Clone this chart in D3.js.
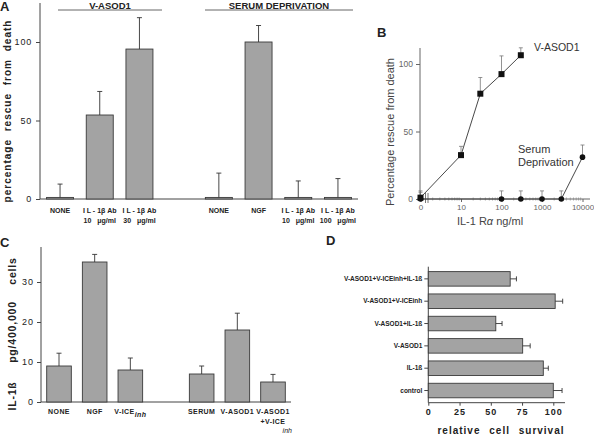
<!DOCTYPE html>
<html><head><meta charset="utf-8">
<script src="https://cdn.jsdelivr.net/npm/d3@7"></script>
<style>
html,body{margin:0;padding:0;background:#fff;}
svg{display:block;font-family:"Liberation Sans",Arial,Helvetica,sans-serif;}
</style></head>
<body>
<script>
// ---------- Panel A data ----------
const aLine1 = ["NONE","I L - 1β Ab","I L - 1β Ab","","NONE","NGF","I L - 1β Ab","I L - 1β Ab"];
const aLine2 = ["","10   μg/ml","30   μg/ml","","","","10   μg/ml","100   μg/ml"];
const aValues = [1, 53.5, 95.5, null, 1, 100, 1, 1];
const aErrTop = [9.5, 68.5, 115.5, null, 16.5, 110.5, 11.5, 13];
const aTicks = [0, 50, 100];
const aGroups = ["V-ASOD1", "SERUM DEPRIVATION"];

// ---------- Panel B data ----------
const bAsodDose = [0, 10, 30, 100, 300];
const bAsodVal = [1, 32.5, 78, 92.5, 106.5];
const bAsodErr = [6, 39, 90, 106, 112];
const bSerumDose = [0, 100, 300, 1000, 3000, 10000];
const bSerumVal = [0, 0, 0, 0, 0, 31];
const bSerumErr = [5, 6, 6, 6, 6, 40];
const bXTicks = [0, 10, 100, 1000, 10000];
const bYTicks = [0, 50, 100];

// ---------- Panel C data ----------
const cLine1 = ["NONE","NGF","V-ICE","","SERUM","V-ASOD1","V-ASOD1"];
const cLine2 = ["","","","","","","+V-ICE"];
const cValues = [9, 35, 8, null, 7, 18, 5];
const cErrTop = [12.2, 36.9, 11, null, 9, 22.2, 6.9];
const cTicks = [0, 10, 20, 30];

// ---------- Panel D data ----------
const dCategories = ["V-ASOD1+V-ICEinh+IL-1ß","V-ASOD1+V-ICEinh","V-ASOD1+IL-1ß","V-ASOD1","IL-1ß","control"];
const dValues = [65.5, 101.5, 54, 75.5, 92, 100];
const dErr = [70.5, 107.5, 59, 81.5, 96, 107];
const dTicks = [0, 25, 50, 75, 100];

const W = 594, H = 435;
const svg = d3.select("body").append("svg").attr("width", W).attr("height", H);
const barFill = "#a3a3a3", barStroke = "#3a3a3a", ink = "#222";

// ================= Panel A =================
{
  const g = svg.append("g");
  const x = d3.scaleBand().domain(d3.range(aValues.length)).range([40, 358]).paddingInner(0.32).paddingOuter(0.165);
  const y = d3.scaleLinear().domain([0, 100]).range([199, 42]);
  g.append("text").attr("x", 0).attr("y", 11).attr("font-size", 13).attr("font-weight", "bold").attr("fill", ink).text("A");
  g.append("line").attr("x1", 40).attr("x2", 40).attr("y1", 3).attr("y2", 199).attr("stroke", "#444");
  g.append("line").attr("x1", 40).attr("x2", 358).attr("y1", y(0)).attr("y2", y(0)).attr("stroke", "#444");
  const ax = g.append("g").attr("transform", "translate(40,0)")
    .call(d3.axisLeft(y).tickValues(aTicks).tickSize(4).tickPadding(4));
  ax.select(".domain").remove();
  ax.selectAll("line").attr("stroke", "#444");
  ax.selectAll("text").attr("font-size", 9).attr("fill", ink).attr("letter-spacing", "0.8px").attr("font-family", "Liberation Sans, Arial");
  const idx = d3.range(aValues.length).filter(i => aValues[i] !== null);
  g.selectAll(".ab").data(idx).join("rect")
    .attr("x", i => x(i)).attr("width", x.bandwidth())
    .attr("y", i => y(aValues[i])).attr("height", i => y(0) - y(aValues[i]))
    .attr("fill", barFill).attr("stroke", barStroke).attr("stroke-width", 0.9);
  g.selectAll(".ae").data(idx).join("path")
    .attr("d", i => { const cx = x(i) + x.bandwidth()/2; return `M${cx},${y(aValues[i])}V${y(aErrTop[i])}M${cx-2.5},${y(aErrTop[i])}H${cx+2.5}`; })
    .attr("stroke", "#333").attr("stroke-width", 0.9).attr("fill", "none");
  g.selectAll(".al1").data(idx).join("text")
    .attr("x", i => x(i) + x.bandwidth()/2).attr("y", 213).attr("text-anchor", "middle")
    .attr("font-size", 7).attr("font-weight", "bold").attr("fill", ink).text(i => aLine1[i]);
  g.selectAll(".al2").data(idx).join("text")
    .attr("x", i => x(i) + x.bandwidth()/2).attr("y", 222.5).attr("text-anchor", "middle")
    .style("white-space","pre")
    .attr("font-size", 7).attr("font-weight", "bold").attr("fill", ink).text(i => aLine2[i]);
  const groupSpans = [[58, 162], [205, 353]];
  aGroups.forEach((t, k) => {
    g.append("line").attr("x1", groupSpans[k][0]).attr("x2", groupSpans[k][1]).attr("y1", 10).attr("y2", 10).attr("stroke", "#555").attr("stroke-width", 0.9);
    g.append("text").attr("x", (groupSpans[k][0] + groupSpans[k][1]) / 2).attr("y", 8.5).attr("text-anchor", "middle")
      .attr("font-size", 9.5).attr("font-weight", "bold").attr("fill", ink).text(t);
  });
  g.append("text").attr("transform", "translate(11,111) rotate(-90)").attr("text-anchor", "middle")
    .attr("font-size", 10).attr("font-weight", "bold").attr("fill", ink).attr("letter-spacing", "1px").attr("word-spacing", "4px")
    .text("percentage rescue from death");
}

// ================= Panel B =================
{
  const g = svg.append("g");
  const pos = d => d === 0 ? 1 : d;
  const x = d3.scaleLog().domain([1, 10000]).range([420.5, 582.5]);
  const y = d3.scaleLinear().domain([0, 100]).range([199, 64]);
  g.append("text").attr("x", 377).attr("y", 37).attr("font-size", 13).attr("font-weight", "bold").attr("fill", ink).text("B");
  g.append("line").attr("x1", 420).attr("x2", 420).attr("y1", 48).attr("y2", 199).attr("stroke", "#666");
  g.append("line").attr("x1", 420).attr("x2", 590).attr("y1", 199).attr("y2", 199).attr("stroke", "#666");
  const ay = g.append("g").attr("transform", "translate(420,0)")
    .call(d3.axisLeft(y).tickValues(bYTicks).tickSize(4).tickPadding(3));
  ay.select(".domain").remove();
  ay.selectAll("line").attr("stroke", "#666");
  ay.selectAll("text").attr("font-size", 8.5).attr("fill", "#666").attr("font-family", "Liberation Sans, Arial");
  const minor = [];
  for (let e = 0; e < 4; e++) for (let m = 2; m <= 9; m++) minor.push(m * Math.pow(10, e));
  g.selectAll(".mn").data(minor.filter(v => v > 1.3)).join("line")
    .attr("x1", d => x(d)).attr("x2", d => x(d)).attr("y1", 197.5).attr("y2", 200.5).attr("stroke", "#888").attr("stroke-width", 0.7);
  const axx = g.append("g").attr("transform", "translate(0,199)")
    .call(d3.axisBottom(x).tickValues(bXTicks.map(pos)).tickFormat((d, i) => String(bXTicks[i])).tickSize(3).tickPadding(2));
  axx.select(".domain").remove();
  axx.selectAll("line").attr("stroke", "#666");
  axx.selectAll("text").attr("font-size", 8).attr("fill", "#666").attr("font-family", "Liberation Sans, Arial");
  g.append("path").attr("d", "M425.5,193V203M428,193V203").attr("stroke", "#555").attr("stroke-width", 0.8);
  const lineGen = (ds, vs) => d3.line()(ds.map((d, i) => [x(pos(d)), y(vs[i])]));
  g.append("path").attr("d", lineGen(bAsodDose, bAsodVal)).attr("fill", "none").attr("stroke", "#333").attr("stroke-width", 0.9);
  g.append("path").attr("d", lineGen(bSerumDose, bSerumVal)).attr("fill", "none").attr("stroke", "#333").attr("stroke-width", 0.9);
  const errs = (ds, vs, es, cls) => g.selectAll("." + cls).data(ds).join("path")
    .attr("d", (d, i) => { const cx = x(pos(d)); return `M${cx},${y(vs[i])}V${y(es[i])}M${cx-2},${y(es[i])}H${cx+2}`; })
    .attr("stroke", "#777").attr("stroke-width", 0.8).attr("fill", "none");
  errs(bAsodDose, bAsodVal, bAsodErr, "ea");
  errs(bSerumDose, bSerumVal, bSerumErr, "es");
  g.selectAll(".ma").data(bAsodDose).join("rect")
    .attr("x", d => x(pos(d)) - 3).attr("y", (d, i) => y(bAsodVal[i]) - 3).attr("width", 6).attr("height", 6).attr("fill", "#111");
  g.selectAll(".ms").data(bSerumDose).join("circle")
    .attr("cx", d => x(pos(d))).attr("cy", (d, i) => y(bSerumVal[i])).attr("r", 2.8).attr("fill", "#111");
  g.append("text").attr("x", 534).attr("y", 51).attr("font-size", 10.5).attr("fill", "#333").text("V-ASOD1");
  g.append("text").attr("x", 518).attr("y", 153).attr("font-size", 11).attr("fill", "#333").text("Serum");
  g.append("text").attr("x", 518).attr("y", 166).attr("font-size", 11).attr("fill", "#333").text("Deprivation");
  g.append("text").attr("transform", "translate(394,132) rotate(-90)").attr("text-anchor", "middle")
    .attr("font-size", 11).attr("fill", "#444").text("Percentage rescue from death");
  const xl = g.append("text").attr("x", 490).attr("y", 225).attr("text-anchor", "middle").attr("font-size", 11).attr("fill", "#444");
  xl.append("tspan").text("IL-1 R");
  xl.append("tspan").attr("font-style", "italic").text("α");
  xl.append("tspan").text(" ng/ml");
}

// ================= Panel C =================
{
  const g = svg.append("g");
  const x = d3.scaleBand().domain(d3.range(cValues.length)).range([41, 291]).paddingInner(0.31).paddingOuter(0.16);
  const y = d3.scaleLinear().domain([0, 30]).range([402, 282]);
  g.append("text").attr("x", 0).attr("y", 247).attr("font-size", 13).attr("font-weight", "bold").attr("fill", ink).text("C");
  g.append("line").attr("x1", 41).attr("x2", 41).attr("y1", 247).attr("y2", 402).attr("stroke", "#444");
  g.append("line").attr("x1", 41).attr("x2", 291).attr("y1", 402).attr("y2", 402).attr("stroke", "#444");
  const ax = g.append("g").attr("transform", "translate(41,0)")
    .call(d3.axisLeft(y).tickValues(cTicks).tickSize(4).tickPadding(3));
  ax.select(".domain").remove();
  ax.selectAll("line").attr("stroke", "#444");
  ax.selectAll("text").attr("font-size", 9).attr("fill", ink).attr("letter-spacing", "1px").attr("font-family", "Liberation Sans, Arial");
  const idx = d3.range(cValues.length).filter(i => cValues[i] !== null);
  g.selectAll(".cb").data(idx).join("rect")
    .attr("x", i => x(i)).attr("width", x.bandwidth())
    .attr("y", i => y(cValues[i])).attr("height", i => y(0) - y(cValues[i]))
    .attr("fill", barFill).attr("stroke", barStroke).attr("stroke-width", 0.9);
  g.selectAll(".ce").data(idx).join("path")
    .attr("d", i => { const cx = x(i) + x.bandwidth()/2; return `M${cx},${y(cValues[i])}V${y(cErrTop[i])}M${cx-2.5},${y(cErrTop[i])}H${cx+2.5}`; })
    .attr("stroke", "#333").attr("stroke-width", 0.9).attr("fill", "none");
  const l1 = g.selectAll(".cl1").data(idx).join("text")
    .attr("x", i => x(i) + x.bandwidth()/2).attr("y", 414).attr("text-anchor", "middle")
    .attr("font-size", 7).attr("font-weight", "bold").attr("fill", ink).attr("letter-spacing", "0.4px");
  l1.append("tspan").text(i => cLine1[i]);
  l1.filter(i => i === 2).append("tspan").attr("font-style", "italic").attr("dy", 2.5).attr("font-size", 7).text("inh");
  g.selectAll(".cl2").data(idx.filter(i => cLine2[i])).join("text")
    .attr("x", i => x(i) + x.bandwidth()/2).attr("y", 423.5).attr("text-anchor", "middle")
    .attr("font-size", 7).attr("font-weight", "bold").attr("fill", ink).attr("letter-spacing", "0.4px").text(i => cLine2[i]);
  g.selectAll(".cl3").data(idx.filter(i => cLine2[i])).join("text")
    .attr("x", i => x(i) + x.bandwidth() + 2).attr("y", 433).attr("text-anchor", "middle")
    .attr("font-size", 7).attr("font-style", "italic").attr("fill", ink).text("inh");
  const yl = [["IL-1ß", 396], ["pg/400,000", 332], ["cells", 271]];
  yl.forEach(([t, cy]) => g.append("text").attr("transform", `translate(16,${cy}) rotate(-90)`).attr("text-anchor", "middle")
    .attr("font-size", 10.5).attr("font-weight", "bold").attr("fill", ink).attr("letter-spacing", "0.8px").text(t));
}

// ================= Panel D =================
{
  const g = svg.append("g");
  const x = d3.scaleLinear().domain([0, 100]).range([428.3, 553.3]);
  const y = d3.scaleBand().domain(dCategories).range([266.7, 402.7]).paddingInner(0.35).paddingOuter(0.22);
  g.append("text").attr("x", 326).attr("y", 245).attr("font-size", 13).attr("font-weight", "bold").attr("fill", ink).text("D");
  g.append("line").attr("x1", 428.3).attr("x2", 428.3).attr("y1", 266.7).attr("y2", 402.7).attr("stroke", "#444");
  g.append("line").attr("x1", 428.3).attr("x2", 565).attr("y1", 402.7).attr("y2", 402.7).attr("stroke", "#444");
  const ax = g.append("g").attr("transform", "translate(0,402.7)")
    .call(d3.axisBottom(x).tickValues(dTicks).tickSize(3).tickPadding(3));
  ax.select(".domain").remove();
  ax.selectAll("line").attr("stroke", "#444");
  ax.selectAll("text").attr("font-size", 9).attr("font-weight", "bold").attr("fill", ink).attr("letter-spacing", "1px").attr("font-family", "Liberation Sans, Arial");
  const ay = g.append("g").attr("transform", "translate(428.3,0)")
    .call(d3.axisLeft(y).tickSize(4).tickPadding(2));
  ay.select(".domain").remove();
  ay.selectAll("line").attr("stroke", "#444");
  ay.selectAll("text").attr("font-size", 6.5).attr("font-weight", "bold").attr("fill", ink).attr("font-family", "Liberation Sans, Arial");
  g.selectAll(".db").data(dCategories).join("rect")
    .attr("x", x(0)).attr("y", d => y(d)).attr("height", y.bandwidth())
    .attr("width", (d, i) => x(dValues[i]) - x(0))
    .attr("fill", barFill).attr("stroke", barStroke).attr("stroke-width", 0.9);
  g.selectAll(".de").data(dCategories).join("path")
    .attr("d", (d, i) => { const cy = y(d) + y.bandwidth()/2; return `M${x(dValues[i])},${cy}H${x(dErr[i])}M${x(dErr[i])},${cy-2.5}V${cy+2.5}`; })
    .attr("stroke", "#333").attr("stroke-width", 0.9).attr("fill", "none");
  g.append("text").attr("x", 501).attr("y", 434).attr("text-anchor", "middle")
    .attr("font-size", 10).attr("font-weight", "bold").attr("fill", ink).attr("letter-spacing", "1px").attr("word-spacing", "5px")
    .text("relative cell survival");
}
</script>
</body></html>
